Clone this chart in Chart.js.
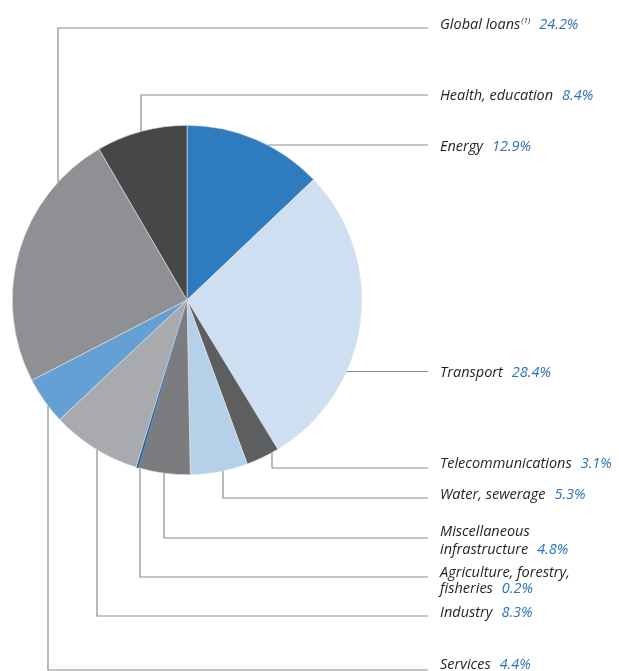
<!DOCTYPE html>
<html>
<head>
<meta charset="utf-8">
<script src="https://cdn.jsdelivr.net/npm/chart.js@4/dist/chart.umd.min.js"></script>
<style>
  html, body { margin: 0; padding: 0; background: #fff; }
  #wrap { width: 619px; height: 671px; position: relative; }
</style>
</head>
<body>
<div id="wrap"><canvas id="pie"></canvas></div>
<script>
// ── Datos ─────────────────────────────────────────────────────────────────────
const categories = ['Energy', 'Transport', 'Telecommunications', 'Water, sewerage',
  'Miscellaneous\ninfrastructure', 'Agriculture, forestry,\nfisheries', 'Industry',
  'Services', 'Global loans', 'Health, education'];
const shares = [12.9, 28.4, 3.1, 5.3, 4.8, 0.2, 8.3, 4.4, 24.2, 8.4];
const sliceColors = ['#2f7bbf', '#cddff0', '#5d5e60', '#b7d0e9', '#7b7c7f',
  '#1d5fab', '#a9aaad', '#64a0d4', '#8f9093', '#474749'];

// ── Guías de etiquetas (layout) ──────────────────────────────────────────────
// h: línea horizontal a la altura y; v: vertical en x y codo en y; text = base de la última línea
const leaders = [
  { type: 'h', y: 145, text: 151 },
  { type: 'h', y: 371.5, text: 377 },
  { type: 'v', x: 272, y: 468, text: 468 },
  { type: 'v', x: 223, y: 498, text: 499 },
  { type: 'v', x: 164, y: 538, text: 554, lh: 18 },
  { type: 'v', x: 140, y: 577, text: 593, lh: 16.5 },
  { type: 'v', x: 97, y: 616, text: 617 },
  { type: 'v', x: 48, y: 670, text: 669 },
  { type: 'v', x: 58, y: 28, text: 29, sup: '(1)' },
  { type: 'v', x: 141, y: 95, text: 100 },
];
const LINE_END = 428, TEXT_X = 440;
const FONT = 'italic 14.5px "Open Sans", sans-serif';

const leaderPlugin = {
  id: 'leaders',
  afterDraw(chart) {
    const ctx = chart.ctx;
    const arc = chart.getDatasetMeta(0).data[0];
    const cx = arc.x, cy = arc.y, r = arc.outerRadius;
    ctx.save();
    ctx.strokeStyle = '#8c8c8c';
    ctx.lineWidth = 1.2;
    leaders.forEach((l, i) => {
      ctx.beginPath();
      if (l.type === 'h') {
        const dx = Math.sqrt(Math.max(0, r * r - (l.y - cy) ** 2));
        ctx.moveTo(cx + dx, l.y);
        ctx.lineTo(LINE_END, l.y);
      } else {
        const dy = Math.sqrt(Math.max(0, r * r - (l.x - cx) ** 2));
        const y0 = l.y < cy ? cy - dy : cy + dy;
        ctx.moveTo(l.x, y0);
        ctx.lineTo(l.x, l.y);
        ctx.lineTo(LINE_END, l.y);
      }
      ctx.stroke();

      // texto
      const lines = categories[i].split('\n');
      const lh = l.lh || 18;
      ctx.font = FONT;
      ctx.textBaseline = 'alphabetic';
      ctx.textAlign = 'left';
      let y = l.text - (lines.length - 1) * lh;
      let x = TEXT_X;
      lines.forEach((t, k) => {
        ctx.fillStyle = '#231f20';
        ctx.fillText(t, TEXT_X, y);
        x = TEXT_X + ctx.measureText(t).width;
        if (k < lines.length - 1) y += lh;
      });
      if (l.sup) {
        ctx.font = 'italic 8px "Open Sans", sans-serif';
        ctx.fillText(l.sup, x + 1, y - 6);
        x += ctx.measureText(l.sup).width + 1;
        ctx.font = FONT;
      }
      ctx.fillStyle = '#2a73ba';
      ctx.fillText(shares[i].toFixed(1) + '%', x + 9, y);
    });
    ctx.restore();
  }
};

new Chart(document.getElementById('pie'), {
  type: 'pie',
  data: {
    labels: categories.map(c => c.replace('\n', ' ')),
    datasets: [{
      data: shares,
      backgroundColor: sliceColors,
      borderWidth: 0.6,
      borderColor: sliceColors.map((c, i) => shares[i] < 1 ? c : '#e6e6e6'),
    }],
  },
  options: {
    responsive: true,
    maintainAspectRatio: false,
    animation: false,
    layout: { padding: { left: 12, right: 257, top: 125, bottom: 196 } },
    plugins: { legend: { display: false }, tooltip: { enabled: false } },
  },
  plugins: [leaderPlugin],
});
</script>
</body>
</html>
